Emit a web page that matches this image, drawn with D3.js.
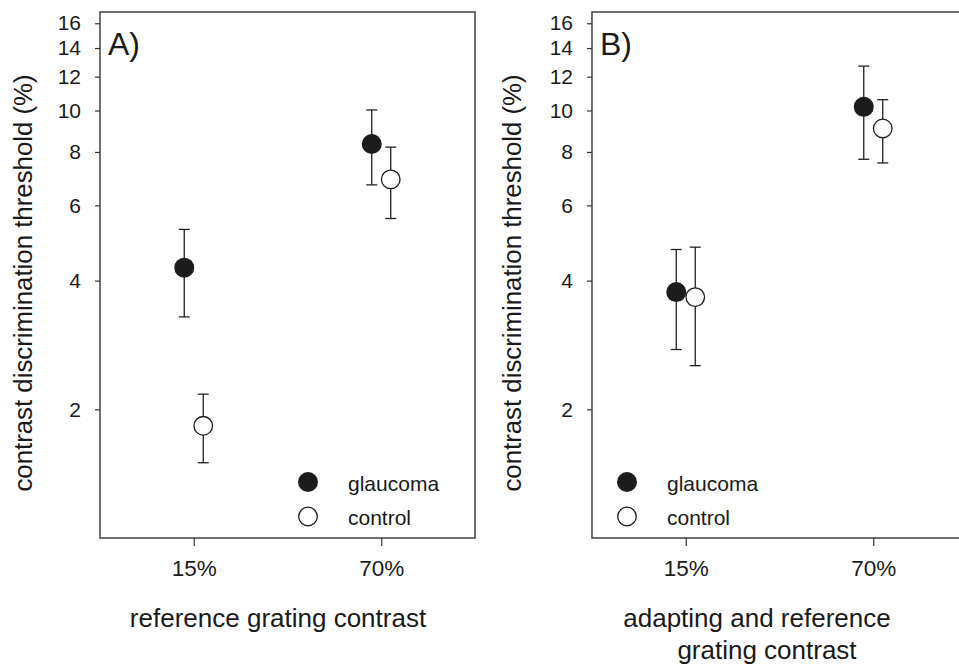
<!DOCTYPE html>
<html lang="en">
<head>
  <meta charset="UTF-8">
  <title>Contrast discrimination thresholds</title>
  <script src="https://d3js.org/d3.v7.min.js"></script>
  <style>
    body { margin: 0; background: #fff; }
    text { font-family: "Liberation Sans", Arial, sans-serif; fill: #1a1a1a; }
  </style>
</head>
<body>

<div id="chart"></div>

<script>
  // data
  const categories = ["15%", "70%"];
  const yTicks = [2, 4, 6, 8, 10, 12, 14, 16];
  const seriesNames = ["glaucoma", "control"];

  // panel A: reference grating contrast
  const glaucomaA = [4.29, 8.35];
  const glaucomaAUpper = [5.27, 10.03];
  const glaucomaALower = [3.29, 6.70];
  const controlA = [1.83, 6.90];
  const controlAUpper = [2.17, 8.21];
  const controlALower = [1.50, 5.59];

  // panel B: adapting and reference grating contrast
  const glaucomaB = [3.76, 10.2];
  const glaucomaBUpper = [4.73, 12.7];
  const glaucomaBLower = [2.76, 7.69];
  const controlB = [3.66, 9.08];
  const controlBUpper = [4.79, 10.6];
  const controlBLower = [2.53, 7.54];

  const width = 959;
  const height = 665;

  const svg = d3.select("#chart")
    .append("svg")
    .attr("width", width)
    .attr("height", height);

  const plotW = 375;
  const plotTop = 12;
  const plotBottom = 538;

  const y = d3.scaleLog()
    .domain([1, 17])
    .range([plotBottom, plotTop]);

  function series(name, mean, upper, lower) {
    return categories.map((c, i) => ({ name, cat: c, v: mean[i], hi: upper[i], lo: lower[i] }));
  }

  function drawPanel(opts) {
    const g = svg.append("g").attr("transform", `translate(${opts.left},0)`);

    const x = d3.scalePoint()
      .domain(categories)
      .range([0, plotW])
      .padding(0.5);

    const offset = d3.scaleOrdinal()
      .domain(seriesNames)
      .range([-9.5, 9.5]);

    // frame
    g.append("rect")
      .attr("x", 0)
      .attr("y", plotTop)
      .attr("width", plotW)
      .attr("height", plotBottom - plotTop)
      .attr("fill", "none")
      .attr("stroke", "#4d4d4d")
      .attr("stroke-width", 1.6);

    // y axis
    const yAxis = g.append("g")
      .call(d3.axisLeft(y).tickValues(yTicks).tickFormat(d3.format("d")).tickSize(5).tickPadding(14));
    yAxis.select(".domain").remove();
    yAxis.selectAll(".tick line").attr("stroke", "#333").attr("stroke-width", 1.2);
    yAxis.selectAll(".tick text")
      .attr("font-size", 21)
      .attr("fill", "#1a1a1a")
      .style("font-family", "'Liberation Sans', Arial, sans-serif");

    // x axis
    const xAxis = g.append("g")
      .attr("transform", `translate(0,${plotBottom})`)
      .call(d3.axisBottom(x).tickSize(8).tickPadding(14));
    xAxis.select(".domain").remove();
    xAxis.selectAll(".tick line").attr("stroke", "#333").attr("stroke-width", 1.2);
    xAxis.selectAll(".tick text")
      .attr("font-size", 22.5)
      .attr("fill", "#1a1a1a")
      .style("font-family", "'Liberation Sans', Arial, sans-serif");

    // panel letter
    g.append("text")
      .attr("x", 8)
      .attr("y", 55)
      .attr("font-size", 32)
      .text(opts.letter);

    // y title
    g.append("text")
      .attr("transform", `translate(${opts.yTitleX},${(plotTop + plotBottom) / 2 + 8}) rotate(-90)`)
      .attr("text-anchor", "middle")
      .attr("font-size", 25.8)
      .text("contrast discrimination threshold (%)");

    // x title
    g.append("g")
      .selectAll("text")
      .data(opts.xTitle)
      .join("text")
      .attr("x", d => d.x)
      .attr("y", (d, i) => 627 + i * 32)
      .attr("text-anchor", "middle")
      .attr("font-size", 26)
      .text(d => d.t);

    // points
    const pts = opts.data.flat();
    const pg = g.selectAll(".pt")
      .data(pts)
      .join("g")
      .attr("class", "pt")
      .attr("transform", d => `translate(${x(d.cat) + offset(d.name)},0)`);

    pg.append("line")
      .attr("y1", d => y(d.lo))
      .attr("y2", d => y(d.hi))
      .attr("stroke", "#222")
      .attr("stroke-width", 1.3);
    pg.append("line")
      .attr("x1", -5.5).attr("x2", 5.5)
      .attr("y1", d => y(d.hi)).attr("y2", d => y(d.hi))
      .attr("stroke", "#222")
      .attr("stroke-width", 1.3);
    pg.append("line")
      .attr("x1", -5.5).attr("x2", 5.5)
      .attr("y1", d => y(d.lo)).attr("y2", d => y(d.lo))
      .attr("stroke", "#222")
      .attr("stroke-width", 1.3);
    pg.append("circle")
      .attr("cy", d => y(d.v))
      .attr("r", d => d.name === "glaucoma" ? 10 : 9.3)
      .attr("fill", d => d.name === "glaucoma" ? "#1c1c1c" : "#fff")
      .attr("stroke", "#1c1c1c")
      .attr("stroke-width", d => d.name === "glaucoma" ? 0 : 1.3);

    // legend
    const lg = g.append("g")
      .attr("transform", `translate(${opts.legendX},0)`);
    const items = lg.selectAll("g")
      .data(seriesNames)
      .join("g")
      .attr("transform", (d, i) => `translate(0,${482 + i * 34.5})`);
    items.append("circle")
      .attr("r", d => d === "glaucoma" ? 10 : 9.3)
      .attr("fill", d => d === "glaucoma" ? "#1c1c1c" : "#fff")
      .attr("stroke", "#1c1c1c")
      .attr("stroke-width", d => d === "glaucoma" ? 0 : 1.3);
    items.append("text")
      .attr("x", 40)
      .attr("y", 8.5)
      .attr("font-size", 21)
      .text(d => d);
  }

  drawPanel({
    left: 100,
    letter: "A)",
    yTitleX: -68,
    legendX: 208,
    xTitle: [{ t: "reference grating contrast", x: 178 }],
    data: [
      series("glaucoma", glaucomaA, glaucomaAUpper, glaucomaALower),
      series("control", controlA, controlAUpper, controlALower)
    ]
  });

  drawPanel({
    left: 592,
    letter: "B)",
    yTitleX: -71,
    legendX: 35,
    xTitle: [
      { t: "adapting and reference", x: 165 },
      { t: "grating contrast", x: 175 }
    ],
    data: [
      series("glaucoma", glaucomaB, glaucomaBUpper, glaucomaBLower),
      series("control", controlB, controlBUpper, controlBLower)
    ]
  });
</script>

</body>
</html>
